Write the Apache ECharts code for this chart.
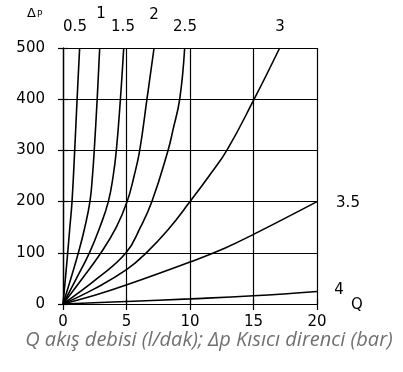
<!DOCTYPE html>
<html>
<head>
<meta charset="utf-8">
<script src="https://cdn.jsdelivr.net/npm/echarts@6/dist/echarts.min.js"></script>
<style>html,body{margin:0;padding:0;background:#fff;}#c{width:403px;height:372px;}</style>
</head>
<body>
<div id="c"></div>
<script>
// Axis ticks
const qTicks = [0, 5, 10, 15, 20];
const pTicks = [0, 100, 200, 300, 400, 500];
// Curve labels
const curveNames = ['0.5', '1', '1.5', '2', '2.5', '3', '3.5', '4'];
// Curves: [Q, Δp]
const curve05 = [[0,0],[0.19,50],[0.37,100],[0.54,150],[0.71,200],[0.92,300],[1.11,400],[1.31,500]];
const curve1  = [[0,0],[0.62,50],[1.21,100],[1.72,150],[2.12,200],[2.32,250],[2.46,300],[2.69,400],[2.89,500]];
const curve15 = [[0,0],[1.06,50],[2.08,100],[2.9,150],[3.57,200],[3.95,250],[4.2,300],[4.52,400],[4.78,500]];
const curve2  = [[0,0],[1.52,50],[2.99,100],[4.2,150],[5.05,200],[5.6,250],[6.04,300],[6.61,400],[7.17,500]];
const curve25 = [[0,0],[2.7,50],[4.96,100],[6.1,150],[7.0,200],[8.27,300],[8.66,340],[9.19,400],[9.58,500]];
const curve3  = [[0,0],[2.5,30],[5,67],[6.56,100],[8.27,145],[10,200],[11.5,250],[12.9,300],[15.05,400],[17.06,500]];
const curve35 = [[0,0],[2.5,17],[4.86,36],[10,82],[12.73,109],[15,136],[20,200]];
const curve4  = [[0,0],[5,5],[10,10],[15,16],[20,24.5]];
const curves = [curve05, curve1, curve15, curve2, curve25, curve3, curve35, curve4];

const tickFont = { fontFamily: 'DejaVu Sans', fontSize: 15, color: '#000' };
const lbl = (t, x, y) => ({ type: 'text', x: x, y: y, style: { text: t, font: '15px "DejaVu Sans"', fill: '#000', align: 'center', verticalAlign: 'middle' } });
const chart = echarts.init(document.getElementById('c'));
chart.setOption({
  animation: false,
  grid: { left: 63, right: 86, top: 48, bottom: 68 },
  xAxis: [
    { type: 'value', min: 0, max: 20, interval: 5, position: 'bottom',
      axisLine: { show: true, lineStyle: { color: '#000', width: 1.2 } },
      axisTick: { show: true, length: 6, lineStyle: { color: '#000', width: 1.2 } },
      axisLabel: Object.assign({ margin: 11, formatter: v => qTicks.includes(v) ? String(v) : '' }, tickFont),
      splitLine: { show: true, lineStyle: { color: '#000', width: 1.2 } } },
    { type: 'value', min: 0, max: 20, interval: 5, position: 'top',
      axisLine: { show: true, lineStyle: { color: '#000', width: 1.2 } },
      axisTick: { show: true, length: 5, lineStyle: { color: '#000', width: 1.2 } },
      axisLabel: { show: false }, splitLine: { show: false } }
  ],
  yAxis: [
    { type: 'value', min: 0, max: 500, interval: 100, position: 'left',
      axisLine: { show: true, lineStyle: { color: '#000', width: 1.2 } },
      axisTick: { show: true, length: 5, lineStyle: { color: '#000', width: 1.2 } },
      axisLabel: Object.assign({ margin: 18, formatter: v => pTicks.includes(v) ? String(v) : '' }, tickFont),
      splitLine: { show: true, lineStyle: { color: '#000', width: 1.2 } } },
    { type: 'value', min: 0, max: 500, interval: 100, position: 'right',
      axisLine: { show: true, lineStyle: { color: '#000', width: 1.2 } },
      axisTick: { show: true, length: 5, lineStyle: { color: '#000', width: 1.2 } },
      axisLabel: { show: false }, splitLine: { show: false } }
  ],
  series: curves.map((d, i) => ({
    name: curveNames[i], type: 'line', data: d, smooth: 0.45, symbol: 'none',
    xAxisIndex: 0, yAxisIndex: 0,
    lineStyle: { color: '#000', width: 1.6 }
  })),
  graphic: [
    { type: 'text', left: 27, top: 7, style: { rich: { a: { fontFamily: 'DejaVu Sans', fontSize: 13, fill: '#000' }, b: { fontFamily: 'DejaVu Sans', fontSize: 9, fill: '#000', padding: [3,0,0,1] } }, text: '{a|Δ}{b|P}' } },
    lbl(curveNames[0], 75, 27), lbl(curveNames[1], 101, 14), lbl(curveNames[2], 123, 27),
    lbl(curveNames[3], 154, 15), lbl(curveNames[4], 185, 27), lbl(curveNames[5], 280, 27),
    lbl(curveNames[6], 348, 203), lbl(curveNames[7], 339, 290), lbl('Q', 357, 305),
    { type: 'text', x: 209, y: 340, style: { text: 'Q akış debisi (l/dak); Δp Kısıcı direnci (bar)', font: 'italic 20px "Open Sans"', fill: '#707070', align: 'center', verticalAlign: 'middle' } }
  ]
});
</script>
</body>
</html>
